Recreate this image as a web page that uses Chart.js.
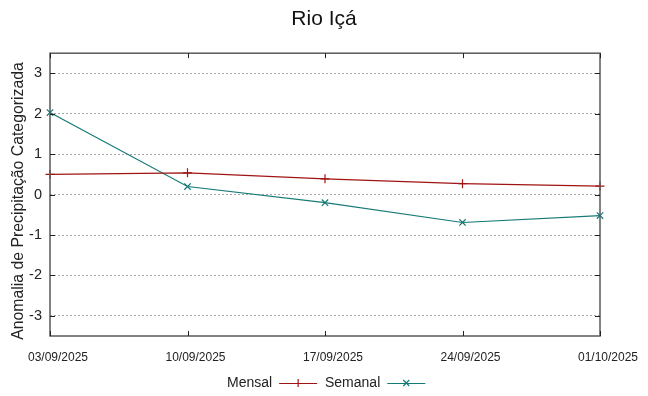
<!DOCTYPE html>
<html>
<head>
<meta charset="utf-8">
<script src="https://cdn.jsdelivr.net/npm/chart.js@4/dist/chart.umd.min.js"></script>
<style>
html,body{margin:0;padding:0;background:#fff;}
#wrap{width:648px;height:396px;position:relative;}
</style>
</head>
<body>
<div id="wrap"><canvas id="c" width="648" height="396"></canvas></div>
<script>
const categories = ['03/09/2025','10/09/2025','17/09/2025','24/09/2025','01/10/2025'];
const mensal = [0.50, 0.54, 0.39, 0.27, 0.21];
const semanal = [2.03, 0.20, -0.20, -0.69, -0.52];
const yTicks = [-3, -2, -1, 0, 1, 2, 3];
const seriesNames = ['Mensal', 'Semanal'];
const yTitle = 'Anomalia de Precipitação Categorizada';
const colMensal = '#a01414';
const colSemanal = '#157a76';
const FONT = "'Liberation Sans', Arial, sans-serif";

const frame = {
  id: 'frame',
  afterDatasetsDraw(chart) {
    const {ctx, chartArea: a} = chart;
    const xs = chart.scales.x, ys = chart.scales.y;
    ctx.save();
    ctx.strokeStyle = '#5a5a5a';
    ctx.lineWidth = 1.5;
    ctx.strokeRect(a.left, a.top, a.right - a.left, a.bottom - a.top);
    ctx.lineWidth = 1;
    ctx.strokeStyle = '#222';
    ctx.beginPath();
    for (let i = 0; i < categories.length; i++) {
      const x = Math.round(xs.getPixelForValue(i)) + 0.5;
      ctx.moveTo(x, a.top); ctx.lineTo(x, a.top + 5);
      ctx.moveTo(x, a.bottom); ctx.lineTo(x, a.bottom - 5);
    }
    for (const v of yTicks) {
      const y = Math.round(ys.getPixelForValue(v)) + 0.5;
      ctx.moveTo(a.left, y); ctx.lineTo(a.left + 5, y);
      ctx.moveTo(a.right, y); ctx.lineTo(a.right - 5, y);
    }
    ctx.stroke();
    ctx.restore();
  },
  afterDraw(chart) {
    const ctx = chart.ctx;
    ctx.save();
    // y-axis title
    ctx.save();
    ctx.translate(18.5, 201);
    ctx.rotate(-Math.PI / 2);
    ctx.font = '15.8px ' + FONT;
    ctx.fillStyle = '#222';
    ctx.textAlign = 'center';
    ctx.textBaseline = 'middle';
    ctx.fillText(yTitle, 0, 0);
    ctx.restore();
    // legend
    ctx.font = '14px ' + FONT;
    ctx.textBaseline = 'middle';
    const y = 383;
    const items = [
      {label: seriesNames[0], x: 227, color: colMensal, style: 'cross'},
      {label: seriesNames[1], x: 325, color: colSemanal, style: 'crossRot'}
    ];
    for (const it of items) {
      ctx.fillStyle = '#222';
      ctx.textAlign = 'left';
      ctx.fillText(it.label, it.x, y);
      const w = ctx.measureText(it.label).width;
      const x0 = it.x + w + 7, x1 = x0 + 38;
      ctx.strokeStyle = it.color;
      ctx.lineWidth = 1.2;
      ctx.beginPath();
      ctx.moveTo(x0, y + 0.5); ctx.lineTo(x1, y + 0.5);
      ctx.stroke();
      const cx = (x0 + x1) / 2;
      ctx.beginPath();
      if (it.style === 'cross') {
        ctx.moveTo(cx, y - 4); ctx.lineTo(cx, y + 4);
      } else {
        ctx.moveTo(cx - 3, y - 3); ctx.lineTo(cx + 3, y + 3);
        ctx.moveTo(cx - 3, y + 3); ctx.lineTo(cx + 3, y - 3);
      }
      ctx.stroke();
    }
    ctx.restore();
  }
};

new Chart(document.getElementById('c'), {
  type: 'line',
  data: {
    labels: categories,
    datasets: [
      {label: seriesNames[0], data: mensal, borderColor: colMensal, backgroundColor: colMensal,
       borderWidth: 1.2, pointStyle: 'cross', pointRadius: 4.5, pointBorderWidth: 1.2, tension: 0, fill: false},
      {label: seriesNames[1], data: semanal, borderColor: colSemanal, backgroundColor: colSemanal,
       borderWidth: 1.2, pointStyle: 'crossRot', pointRadius: 4.5, pointBorderWidth: 1.2, tension: 0, fill: false}
    ]
  },
  options: {
    responsive: false,
    animation: false,
    layout: {padding: {left: 0, right: 0, top: 0, bottom: 0}},
    plugins: {
      legend: {display: false},
      tooltip: {enabled: false},
      title: {display: true, text: 'Rio Içá', color: '#111',
        font: {family: FONT, size: 21, weight: 'normal'}, padding: {top: 7, bottom: 21}}
    },
    scales: {
      x: {
        type: 'category', offset: false,
        grid: {display: false, drawTicks: false},
        border: {display: false},
        ticks: {color: '#222', font: {family: FONT, size: 12}, padding: 14, labelOffset: 8,
          maxRotation: 0, autoSkip: false},
        afterFit: s => { s.height = 60; }
      },
      y: {
        min: -3.5, max: 3.5,
        afterBuildTicks: s => { s.ticks = yTicks.map(v => ({value: v})); },
        grid: {color: '#a8a8a8', lineWidth: 1, drawTicks: false},
        border: {display: false, dash: [2, 2]},
        ticks: {color: '#222', font: {family: FONT, size: 14.5}, padding: 8},
        afterFit: s => { s.width = 50; }
      },
      yRight: {
        position: 'right',
        min: -3.5, max: 3.5,
        grid: {display: false, drawTicks: false},
        border: {display: false},
        ticks: {display: false},
        afterFit: s => { s.width = 48; }
      }
    }
  },
  plugins: [frame]
});
</script>
</body>
</html>
